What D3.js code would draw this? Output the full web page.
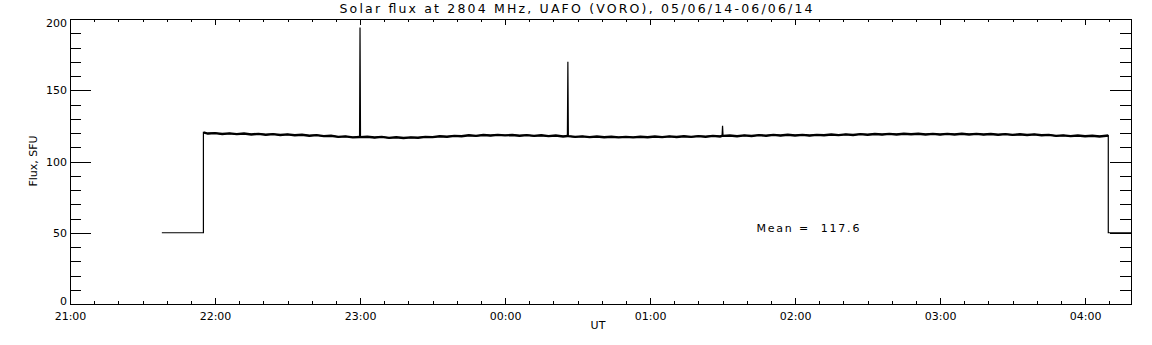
<!DOCTYPE html>
<html>
<head>
<meta charset="utf-8">
<script src="https://cdn.jsdelivr.net/npm/d3@7"></script>
<style>
  body { margin: 0; background: #fff; }
  text { font-family: "DejaVu Sans", sans-serif; fill: #000; }
</style>
</head>
<body>
<svg id="chart" width="1152" height="345"></svg>
<script>
// minutes after 21:00 UT, and the labels of the hour ticks
var hourTicks = [0, 60, 120, 180, 240, 300, 360, 420];
var hourLabels = ["21:00", "22:00", "23:00", "00:00", "01:00", "02:00", "03:00", "04:00"];
var fluxTicks = [0, 50, 100, 150, 200];
var fluxLabels = ["0", "50", "100", "150", "200"];

// [minutes after 21:00, flux in SFU]
var fluxTrace = [
  [38, 50.0], [55.2, 50.0], [55.2, 120.4], [57, 119.6], [60, 119.9], [63, 119.3],
  [66, 119.7], [69, 119.2], [72, 119.6], [75, 119.0], [78, 119.4], [81, 118.8],
  [84, 119.2], [87, 118.6], [90, 119.0], [93, 118.4], [96, 118.8], [99, 118.1],
  [102, 118.5], [105, 117.8], [108, 118.1], [111, 117.3], [114, 117.6], [117, 116.9],
  [119.8, 117.2], [120, 194], [120.2, 117.1], [123, 117.4], [126, 116.8], [129, 117.3],
  [132, 116.6], [135, 117.0], [138, 116.5], [141, 116.9], [144, 116.7], [147, 117.3],
  [150, 117.1], [153, 117.7], [156, 117.4], [159, 118.0], [162, 117.7], [165, 118.4],
  [168, 118.0], [171, 118.6], [174, 118.2], [177, 118.7], [180, 118.3], [183, 118.6],
  [186, 118.1], [189, 118.5], [192, 118.0], [195, 118.4], [198, 117.8], [201, 118.2],
  [204, 117.6], [205.8, 117.9], [206, 170], [206.2, 117.8], [209, 117.3], [212, 117.6],
  [215, 117.1], [218, 117.5], [221, 117.0], [224, 117.4], [227, 116.9], [230, 117.3],
  [233, 116.9], [236, 117.4], [239, 117.0], [242, 117.5], [245, 117.1], [248, 117.6],
  [251, 117.2], [254, 117.7], [257, 117.3], [260, 117.8], [263, 117.4], [266, 118.0],
  [269, 117.6], [269.8, 118.0], [270, 125], [270.2, 118.0], [273, 118.2], [276, 117.7],
  [279, 118.3], [282, 117.9], [285, 118.5], [288, 118.1], [291, 118.7], [294, 118.2],
  [297, 118.8], [300, 118.3], [303, 118.7], [306, 118.2], [309, 118.7], [312, 118.4],
  [315, 118.9], [318, 118.5], [321, 119.0], [324, 118.6], [327, 119.2], [330, 118.8],
  [333, 119.3], [336, 118.9], [339, 119.4], [342, 119.0], [345, 119.5], [348, 119.1],
  [351, 119.5], [354, 119.0], [357, 119.4], [360, 118.9], [363, 119.4], [366, 119.0],
  [369, 119.5], [372, 119.0], [375, 119.4], [378, 118.9], [381, 119.3], [384, 118.8],
  [387, 119.2], [390, 118.7], [393, 119.1], [396, 118.6], [399, 119.0], [402, 118.4],
  [405, 118.7], [408, 118.0], [411, 118.3], [414, 117.8], [417, 118.2], [420, 117.7],
  [423, 118.1], [426, 117.6], [429.6, 118.2], [429.6, 50], [439, 50]
];

var meanFlux = 117.6;

var svg = d3.select("#chart");
var plotL = 70, plotR = 1131, plotT = 19, plotB = 304;

var x = d3.scaleLinear().domain([0, 439]).range([plotL, plotR]);
var y = d3.scaleLinear().domain([0, 200]).range([plotB, plotT]);

var minorX = d3.range(0, 439, 10);
var minorY = d3.range(0, 201, 10);

// ticks, all pointing inward
function noDomain(g) { g.select(".domain").remove(); g.selectAll("line").attr("stroke", "#000"); }

svg.append("g").attr("transform", `translate(0,${plotB})`)
  .call(d3.axisBottom(x).tickValues(minorX).tickSize(-3).tickFormat(""))
  .call(noDomain);
svg.append("g").attr("transform", `translate(0,${plotT})`)
  .call(d3.axisTop(x).tickValues(minorX).tickSize(-3).tickFormat(""))
  .call(noDomain);
svg.append("g").attr("transform", `translate(0,${plotB})`)
  .call(d3.axisBottom(x).tickValues(hourTicks).tickSize(-6)
    .tickFormat((d, i) => hourLabels[i]).tickPadding(8))
  .call(noDomain)
  .selectAll("text").attr("font-size", 11).attr("fill", "#000");
svg.append("g").attr("transform", `translate(0,${plotT})`)
  .call(d3.axisTop(x).tickValues(hourTicks).tickSize(-6).tickFormat(""))
  .call(noDomain);

svg.append("g").attr("transform", `translate(${plotL},0)`)
  .call(d3.axisLeft(y).tickValues(minorY).tickSize(-11).tickFormat(""))
  .call(noDomain);
svg.append("g").attr("transform", `translate(${plotR},0)`)
  .call(d3.axisRight(y).tickValues(minorY).tickSize(-11).tickFormat(""))
  .call(noDomain);
svg.append("g").attr("transform", `translate(${plotL},0)`)
  .call(d3.axisLeft(y).tickValues(fluxTicks).tickSize(-21)
    .tickFormat((d, i) => fluxLabels[i]).tickPadding(3))
  .call(noDomain)
  .selectAll("text").attr("font-size", 11).attr("fill", "#000")
  .attr("y", d => d === 200 ? 4 : (d === 0 ? -3 : 0));
svg.append("g").attr("transform", `translate(${plotR},0)`)
  .call(d3.axisRight(y).tickValues(fluxTicks).tickSize(-21).tickFormat(""))
  .call(noDomain);

svg.selectAll("g line").attr("shape-rendering", "crispEdges");

// frame
svg.append("rect")
  .attr("x", plotL).attr("y", plotT)
  .attr("width", plotR - plotL).attr("height", plotB - plotT)
  .attr("fill", "none").attr("stroke", "#000").attr("shape-rendering", "crispEdges");

// trace: thin line for the whole record, thicker band for the noisy plateau
var line = d3.line().x(d => x(d[0])).y(d => y(d[1]));
svg.append("path")
  .datum(fluxTrace)
  .attr("d", line)
  .attr("fill", "none")
  .attr("stroke", "#000")
  .attr("stroke-width", 1.2);

svg.append("path")
  .datum(fluxTrace.filter(d => d[1] > 100 && d[1] < 121))
  .attr("d", line)
  .attr("fill", "none")
  .attr("stroke", "#000")
  .attr("stroke-width", 2.4);

// texts
svg.append("text")
  .attr("x", 576).attr("y", 13)
  .attr("text-anchor", "middle").attr("font-size", 12.5)
  .attr("textLength", 473).attr("lengthAdjust", "spacing")
  .text("Solar flux at 2804 MHz, UAFO (VORO),  05/06/14-06/06/14");

svg.append("text")
  .attr("x", 598).attr("y", 329)
  .attr("text-anchor", "middle").attr("font-size", 11)
  .text("UT");

svg.append("text")
  .attr("transform", "translate(37,161) rotate(-90)")
  .attr("text-anchor", "middle").attr("font-size", 11)
  .text("Flux, SFU");

svg.append("text")
  .attr("x", x(284)).attr("y", y(50.2))
  .attr("font-size", 11)
  .attr("xml:space", "preserve")
  .attr("textLength", 103).attr("lengthAdjust", "spacing")
  .style("white-space", "pre")
  .text("Mean =  " + meanFlux.toFixed(1));
</script>
</body>
</html>
